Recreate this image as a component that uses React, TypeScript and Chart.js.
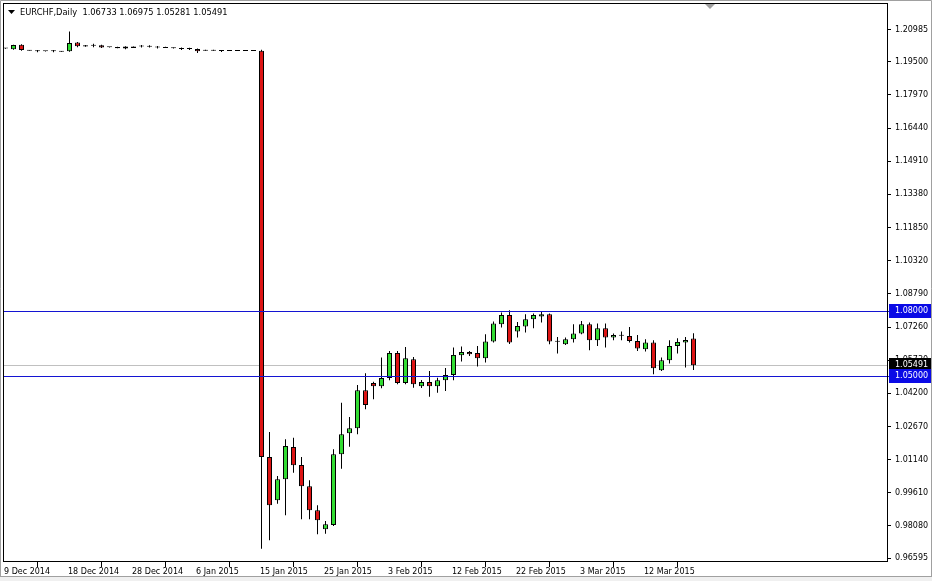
import React, { useEffect, useRef } from 'react';
import { Chart, registerables } from 'chart.js';

Chart.register(...registerables);

const symbolTitle = 'EURCHF,Daily  1.06733 1.06975 1.05281 1.05491';

const opens = [
  1.20125, 1.20075, 1.20292, 1.2002, 1.19985, 1.1999, 1.19985, 1.19975, 1.19983, 1.20385,
  1.20269, 1.2025, 1.20269, 1.2017, 1.2018, 1.202, 1.202, 1.20214, 1.202, 1.20167,
  1.2018, 1.20154, 1.20094, 1.20094, 1.20094, 1.20047, 1.20047, 1.20001, 1.20001, 1.20001,
  1.20001, 1.20001, 1.20015, 1.01262, 0.99262, 1.00232, 1.01724, 1.00893, 0.99909, 0.988,
  0.97923, 0.98121, 1.01387, 1.02357, 1.02588, 1.04343, 1.0468, 1.04528, 1.04911, 1.06066,
  1.0468, 1.05775, 1.04528, 1.04726, 1.04528, 1.04805, 1.0505, 1.0596, 1.06112, 1.06066,
  1.05821, 1.06588, 1.07391, 1.07821, 1.0705, 1.07281, 1.07622, 1.07743, 1.07853, 1.0659,
  1.06468, 1.06699, 1.06957, 1.07391, 1.06653, 1.07207, 1.06773, 1.06868, 1.06851, 1.0662,
  1.06237, 1.06542, 1.05267, 1.05729, 1.06389, 1.06542, 1.06733,
];
const highs = [
  1.2014, 1.20292, 1.20306, 1.2003, 1.20047, 1.19995, 1.2004, 1.1999, 1.20893, 1.20408,
  1.2028, 1.20338, 1.20292, 1.2018, 1.2019, 1.20214, 1.2021, 1.20278, 1.2026, 1.2023,
  1.2019, 1.2016, 1.20154, 1.2015, 1.20108, 1.20055, 1.20055, 1.20047, 1.2001, 1.2001,
  1.2001, 1.2001, 1.20061, 1.02417, 1.00385, 1.0208, 1.02154, 1.01262, 1.00186, 0.99031,
  0.98306, 1.01618, 1.0377, 1.0311, 1.04588, 1.05128, 1.0474, 1.05849, 1.06158, 1.06158,
  1.06343, 1.05881, 1.04819, 1.05235, 1.04925, 1.05373, 1.06311, 1.06366, 1.06158, 1.06389,
  1.0693, 1.07512, 1.07927, 1.08038, 1.07498, 1.07853, 1.07881, 1.0796, 1.07881, 1.06805,
  1.06773, 1.07391, 1.07544, 1.07465, 1.07419, 1.07419, 1.06957, 1.0705, 1.07267, 1.06897,
  1.06699, 1.06653, 1.05849, 1.06653, 1.06745, 1.06805, 1.06975,
];
const lows = [
  1.20105, 1.20061, 1.20015, 1.20005, 1.19937, 1.19975, 1.1994, 1.1995, 1.19969, 1.20167,
  1.20195, 1.20167, 1.2014, 1.2016, 1.20125, 1.20075, 1.20135, 1.20154, 1.20154, 1.20108,
  1.20135, 1.20115, 1.20047, 1.2005, 1.19909, 1.2001, 1.2001, 1.19955, 1.19995, 1.19995,
  1.19995, 1.19995, 0.97027, 0.97415, 0.99105, 0.98569, 1.00537, 0.98385, 0.98385, 0.97692,
  0.9772, 0.98075, 1.00722, 1.01738, 1.02311, 1.03465, 1.03927, 1.04435, 1.04805, 1.0462,
  1.0462, 1.04463, 1.04449, 1.04047, 1.04232, 1.04311, 1.04805, 1.05673, 1.05927, 1.05433,
  1.05618, 1.06542, 1.07234, 1.06482, 1.06773, 1.07004, 1.07207, 1.07465, 1.06468, 1.06034,
  1.06435, 1.06542, 1.0693, 1.06191, 1.06389, 1.06311, 1.06653, 1.06653, 1.06542, 1.06158,
  1.06126, 1.05082, 1.05235, 1.05572, 1.06034, 1.05387, 1.05281,
];
const closes = [
  1.20118, 1.20278, 1.20047, 1.2001, 1.19983, 1.19983, 1.19983, 1.19969, 1.20371, 1.20214,
  1.202, 1.20246, 1.20154, 1.20167, 1.2013, 1.20108, 1.2014, 1.2021, 1.20196, 1.20163,
  1.2014, 1.20121, 1.2009, 1.2009, 1.19983, 1.20015, 1.20015, 1.19998, 1.20001, 1.20001,
  1.20001, 1.20001, 1.01262, 0.99031, 1.00232, 1.0177, 1.00879, 0.99909, 0.988, 0.98339,
  0.98154, 1.01387, 1.02311, 1.02588, 1.04343, 1.03664, 1.04528, 1.04911, 1.06066, 1.0468,
  1.05821, 1.0462, 1.04726, 1.04528, 1.04805, 1.0505, 1.05974, 1.06112, 1.06006, 1.05821,
  1.06588, 1.07419, 1.07821, 1.06542, 1.07313, 1.07622, 1.07821, 1.07853, 1.06588, 1.06585,
  1.06699, 1.06957, 1.07391, 1.06653, 1.07207, 1.06773, 1.06897, 1.06862, 1.0662, 1.06265,
  1.06542, 1.05359, 1.05729, 1.06389, 1.06574, 1.06666, 1.05491,
];

const xTickIndex = [0, 8, 16, 24, 32, 40, 48, 56, 64, 72, 80];
const xTickLabels = [
  '9 Dec 2014', '18 Dec 2014', '28 Dec 2014', '6 Jan 2015', '15 Jan 2015', '25 Jan 2015',
  '3 Feb 2015', '12 Feb 2015', '22 Feb 2015', '3 Mar 2015', '12 Mar 2015',
];
const yTickValues = [
  1.20985, 1.195, 1.1797, 1.1644, 1.1491, 1.1338, 1.1185, 1.1032, 1.0879, 1.0726,
  1.0573, 1.042, 1.0267, 1.0114, 0.9961, 0.9808, 0.96595,
];
const levelLines = [1.08, 1.05];
const lastPrice = 1.05491;

const Y_MIN = 0.96417;
const Y_MAX = 1.22167;
const X_MIN = -0.1875;
const X_MAX = 110.1875;

const FONT = 'DejaVu Sans';
const AXIS_FONT_SIZE = 8;
const TITLE_FONT_SIZE = 8.3;
const GREEN = '#33dd33';
const RED = '#dd1414';
const BLUE_LINE = '#1414d2';
const BLUE_BOX = '#0a0ae6';

const mt4Plugin = {
  id: 'mt4',
  beforeDraw(chart: any) {
    const { ctx, width, height } = chart;
    ctx.save();
    ctx.fillStyle = '#ffffff';
    ctx.fillRect(0, 0, width, height);
    ctx.restore();
  },
  beforeDatasetsDraw(chart: any) {
    const { ctx, chartArea: a } = chart;
    const y = chart.scales.y;
    ctx.save();
    const yb = Math.round(y.getPixelForValue(lastPrice));
    ctx.fillStyle = '#c0c0c0';
    ctx.fillRect(a.left, yb, a.right - a.left, 1);
    ctx.restore();
  },
  afterDatasetsDraw(chart: any) {
    const { ctx, chartArea: a } = chart;
    const y = chart.scales.y;
    ctx.save();
    for (const v of levelLines) {
      const yy = Math.round(y.getPixelForValue(v));
      ctx.fillStyle = BLUE_LINE;
      ctx.fillRect(a.left, yy, a.right - a.left + 3, 1);
    }
    ctx.restore();
  },
  afterDraw(chart: any) {
    const { ctx, chartArea: a, width, height } = chart;
    const y = chart.scales.y;
    ctx.save();
    // chart frame
    ctx.strokeStyle = '#000';
    ctx.lineWidth = 1;
    ctx.strokeRect(a.left - 0.5, a.top - 0.5, a.right - a.left + 1, a.bottom - a.top);
    // window frame
    ctx.fillStyle = '#f0f0f0';
    ctx.fillRect(0, height - 4, width, 4);
    ctx.strokeStyle = '#a0a0a0';
    ctx.beginPath();
    ctx.moveTo(0.5, height - 4);
    ctx.lineTo(0.5, 0.5);
    ctx.lineTo(width - 0.5, 0.5);
    ctx.lineTo(width - 0.5, height - 4);
    ctx.moveTo(0, height - 4.5);
    ctx.lineTo(width, height - 4.5);
    ctx.stroke();
    // title
    ctx.fillStyle = '#000';
    ctx.beginPath();
    ctx.moveTo(8, 10);
    ctx.lineTo(15, 10);
    ctx.lineTo(11.5, 14);
    ctx.closePath();
    ctx.fill();
    ctx.font = `${TITLE_FONT_SIZE}px "${FONT}"`;
    ctx.textBaseline = 'middle';
    ctx.textAlign = 'left';
    ctx.fillText(symbolTitle, 20, 13);
    // shift marker
    ctx.fillStyle = '#a0a0a0';
    ctx.beginPath();
    ctx.moveTo(705, 4);
    ctx.lineTo(715, 4);
    ctx.lineTo(710, 9);
    ctx.closePath();
    ctx.fill();
    // price boxes
    const box = (v: number, bg: string, fg: string) => {
      const yy = Math.round(y.getPixelForValue(v));
      ctx.fillStyle = bg;
      ctx.fillRect(a.right + 2, yy - 7, width - a.right - 3, 14);
      ctx.fillStyle = fg;
      ctx.font = `${AXIS_FONT_SIZE}px "${FONT}"`;
      ctx.textBaseline = 'middle';
      ctx.textAlign = 'left';
      ctx.fillText(v.toFixed(5), a.right + 8, yy);
    };
    box(lastPrice, '#000000', '#ffffff');
    levelLines.forEach((v) => box(v, BLUE_BOX, '#ffffff'));
    ctx.restore();
  },
};

export default function App() {
  const ref = useRef<HTMLCanvasElement | null>(null);

  useEffect(() => {
    if (!ref.current) return;
    const bodyColors = opens.map((o, i) => (closes[i] > o ? GREEN : closes[i] < o ? RED : '#000000'));
    const chart = new Chart(ref.current, {
      type: 'bar',
      data: {
        datasets: [
          {
            label: 'body',
            data: opens.map((o, i) => ({ x: i, y: [o, closes[i]] })) as any,
            backgroundColor: bodyColors,
            borderColor: '#000000',
            borderWidth: 1,
            borderSkipped: false,
            barThickness: 5,
            minBarLength: 1,
            inflateAmount: 0,
            grouped: false,
            order: 0,
          } as any,
          {
            label: 'wick',
            data: lows.map((l, i) => ({ x: i, y: [l, highs[i]] })) as any,
            backgroundColor: '#000000',
            borderWidth: 0,
            barThickness: 1,
            inflateAmount: 0,
            grouped: false,
            order: 1,
          } as any,
        ],
      },
      options: {
        animation: false,
        responsive: false,
        devicePixelRatio: 1,
        events: [],
        layout: { padding: { left: 4, top: 4, right: 0, bottom: 0 } },
        plugins: { legend: { display: false }, tooltip: { enabled: false }, title: { display: false } },
        scales: {
          x: {
            type: 'linear',
            min: X_MIN,
            max: X_MAX,
            offset: false,
            border: { display: false },
            grid: { display: true, drawOnChartArea: false, drawTicks: true, tickLength: 5, color: '#000' },
            ticks: {
              autoSkip: false,
              maxRotation: 0,
              align: 'start',
              labelOffset: -1.5,
              padding: 0,
              color: '#000',
              font: { family: FONT, size: AXIS_FONT_SIZE },
              callback: (_v: any, idx: number) => xTickLabels[idx],
            },
            afterBuildTicks: (axis: any) => {
              axis.ticks = xTickIndex.map((v) => ({ value: v }));
            },
            afterFit: (axis: any) => {
              axis.height = 19;
              axis.paddingLeft = 0;
              axis.paddingRight = 0;
              axis.paddingTop = 0;
              axis.paddingBottom = 0;
            },
          },
          y: {
            type: 'linear',
            position: 'right',
            min: Y_MIN,
            max: Y_MAX,
            border: { display: false },
            grid: { display: true, drawOnChartArea: false, drawTicks: true, tickLength: 4, color: '#000' },
            ticks: {
              autoSkip: false,
              padding: 4,
              color: '#000',
              font: { family: FONT, size: AXIS_FONT_SIZE },
              callback: (v: any) => Number(v).toFixed(5),
            },
            afterBuildTicks: (axis: any) => {
              axis.ticks = yTickValues.map((v) => ({ value: v }));
            },
            afterFit: (axis: any) => {
              axis.width = 45;
              axis.paddingLeft = 0;
              axis.paddingRight = 0;
              axis.paddingTop = 0;
              axis.paddingBottom = 0;
            },
          },
        },
      } as any,
      plugins: [mt4Plugin],
    });
    return () => chart.destroy();
  }, []);

  return (
    <div style={{ position: 'fixed', left: 0, top: 0, width: 932, height: 581, background: '#fff' }}>
      <canvas ref={ref} width={932} height={581} style={{ display: 'block', width: 932, height: 581 }} />
    </div>
  );
}
